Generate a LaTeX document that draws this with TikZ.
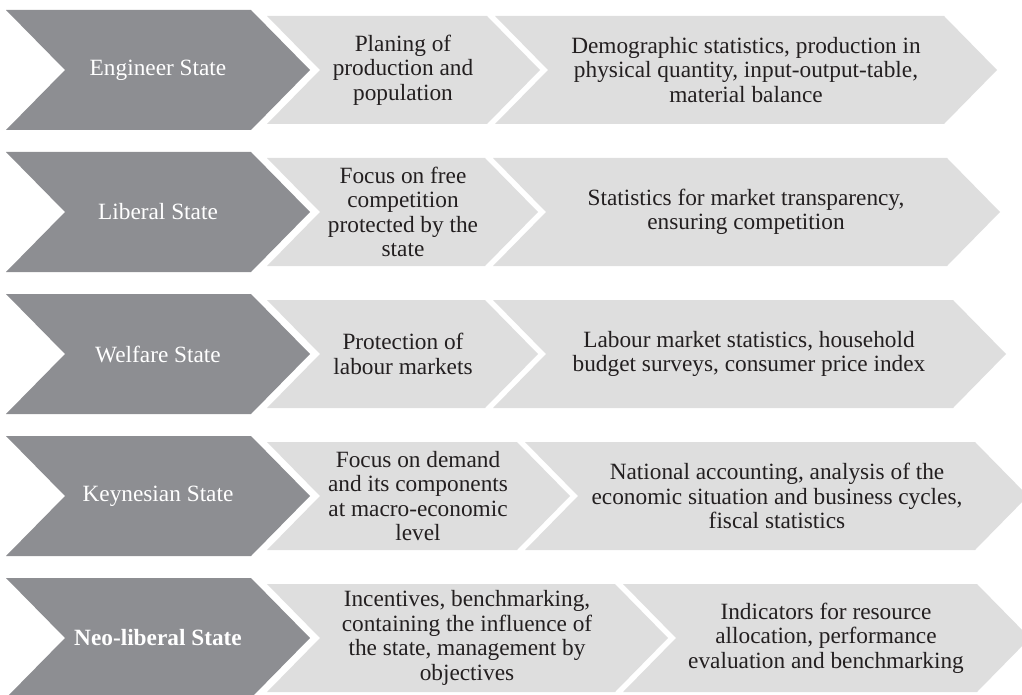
\documentclass[tikz,border=0pt]{standalone}
\usepackage{fontspec}
\setmainfont{Liberation Serif}
\definecolor{statefill}{HTML}{8D8E92}
\definecolor{stepfill}{HTML}{DEDEDE}
\definecolor{steptext}{HTML}{231F20}
% chevron: fill, left x, right x, top y, bottom y, point depth
\newcommand{\drawchev}[6]{%
  \fill[#1] (#2,#4) -- (#3,#4) -- ({#3+#6},{(#4+#5)/2}) -- (#3,#5) -- (#2,#5) -- ({#2+#6},{(#4+#5)/2}) -- cycle;}
\tikzset{
  label text/.style={align=center, inner sep=0pt, font=\fontsize{23.3}{24.6}\selectfont},
  state text/.style={label text, text=white},
  step text/.style={label text, text=steptext}
}
\begin{document}
\begin{tikzpicture}[x=1pt, y=-1pt]
\useasboundingbox (0,0) rectangle (1022,695);
\clip (0,0) rectangle (1022,695);

% Row 1
\drawchev{statefill}{6}{251}{10}{130}{59}
\drawchev{stepfill}{267}{487}{16}{124}{53}
\drawchev{stepfill}{495}{944}{16}{124}{53}
\node[state text] (s1) at (158,70) {Engineer State};
\node[step text] (a1) at (403,70) {Planing of\\production and\\population};
\node[step text] (b1) at (746,70) {Demographic statistics, production in\\physical quantity, input-output-table,\\material balance};

% Row 2
\drawchev{statefill}{6}{251}{152}{272}{59}
\drawchev{stepfill}{267}{485}{158}{266}{53}
\drawchev{stepfill}{493}{947}{158}{266}{53}
\node[state text] (s2) at (158,212) {Liberal State};
\node[step text] (a2) at (403,212) {Focus on free\\competition\\protected by the\\state};
\node[step text] (b2) at (746,212) {Statistics for market transparency,\\ensuring competition};

% Row 3
\drawchev{statefill}{6}{251}{294}{414}{59}
\drawchev{stepfill}{267}{485}{300}{408}{53}
\drawchev{stepfill}{493}{953}{300}{408}{53}
\node[state text] (s3) at (158,354) {Welfare State};
\node[step text] (a3) at (403,354) {Protection of\\labour markets};
\node[step text] (b3) at (749,354) {Labour market statistics, household\\budget surveys, consumer price index};

% Row 4
\drawchev{statefill}{6}{251}{436}{556}{59}
\drawchev{stepfill}{267}{517}{442}{550}{53}
\drawchev{stepfill}{525}{975}{442}{550}{53}
\node[state text] (s4) at (158,496) {Keynesian State};
\node[step text] (a4) at (418,496) {Focus on demand\\and its components\\at macro-economic\\level};
\node[step text] (b4) at (777,496) {National accounting, analysis of the\\economic situation and business cycles,\\fiscal statistics};

% Row 5
\drawchev{statefill}{6}{251}{578}{698}{59}
\drawchev{stepfill}{267}{615}{584}{692}{53}
\drawchev{stepfill}{623}{977}{584}{692}{53}
\node[state text, font=\fontsize{23.3}{24.6}\selectfont\bfseries] (s5) at (158,638) {Neo-liberal State};
\node[step text] (a5) at (467,638) {Incentives, benchmarking,\\containing the influence of\\the state, management by\\objectives};
\node[step text] (b5) at (826,638) {Indicators for resource\\allocation, performance\\evaluation and benchmarking};
\end{tikzpicture}
\end{document}
